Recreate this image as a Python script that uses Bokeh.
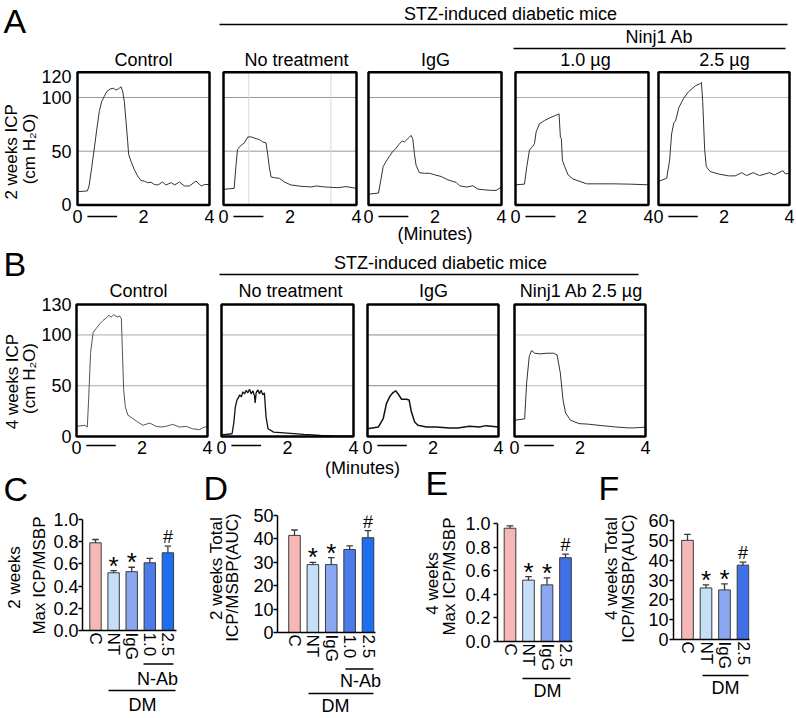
import math
from bokeh.plotting import figure
from bokeh.layouts import column, row
from bokeh.models import Range1d, LinearAxis, FixedTicker, NumeralTickFormatter
from bokeh.core.properties import value
from bokeh.embed import file_html
from bokeh.resources import INLINE

FONT = "Liberation Sans"
MID = 0.355   # distance from baseline to the middle of capitals, in em

# ---------------- data ----------------
minute_ticks = [0, 2, 4]
stim_period = [0.3, 1.2]
icp_grid = [50, 100]
a_nt_vgrid = [0.76, 3.23]

a_titles = ["Control", "No treatment", "IgG", "1.0 µg", "2.5 µg"]
a_yticks = [0, 50, 100, 120]
a_ctrl_t = [0.00, 0.30, 0.35, 0.43, 0.51, 0.59, 0.66, 0.73, 0.81, 0.89, 0.99, 1.09, 1.16, 1.24, 1.32, 1.37, 1.42, 1.47, 1.52, 1.55,
            1.62, 1.72, 1.82, 1.92, 2.03, 2.13, 2.23, 2.33, 2.43, 2.58, 2.68, 2.84, 2.94, 3.09, 3.24, 3.39, 3.59, 3.75, 3.85, 4.00]
a_ctrl_v = [12.3, 13.0, 17.6, 34.6, 53.0, 71.6, 87.0, 96.0, 101.0, 105.6, 108.0, 108.6, 107.0, 108.0, 110.0, 105.6, 96.0, 77.8, 59.0, 47.0,
            40.7, 33.0, 27.0, 22.8, 22.0, 20.7, 21.0, 19.0, 18.5, 21.3, 18.5, 20.7, 18.5, 21.3, 17.6, 17.6, 22.2, 17.6, 19.0, 19.0]
a_nt_t = [0.00, 0.32, 0.37, 0.42, 0.53, 0.63, 0.73, 0.83, 0.98, 1.08, 1.18, 1.28, 1.33, 1.38, 1.43, 1.53, 1.68, 1.83, 2.03, 2.33,
          2.64, 2.79, 3.04, 3.44, 3.69, 4.00]
a_nt_v = [14.5, 15.4, 34.6, 51.5, 55.6, 57.7, 63.3, 63.3, 61.7, 60.8, 58.6, 57.7, 47.0, 34.6, 26.0, 25.3, 24.7, 21.3, 18.5, 17.3,
          16.7, 17.6, 16.7, 16.0, 17.0, 15.4]
a_igg_t = [0.00, 0.30, 0.37, 0.44, 0.52, 0.62, 0.72, 0.82, 0.92, 1.01, 1.08, 1.15, 1.23, 1.28, 1.33, 1.38, 1.43, 1.53, 1.69, 1.84,
           1.99, 2.19, 2.39, 2.54, 2.64, 2.74, 2.94, 3.14, 3.29, 3.49, 3.69, 3.84, 4.00]
a_igg_v = [10.0, 11.0, 23.0, 35.6, 40.0, 44.8, 49.4, 52.5, 56.4, 59.5, 58.6, 60.7, 63.0, 64.7, 61.7, 47.9, 37.0, 30.0, 29.4, 29.4,
           28.0, 26.4, 23.3, 21.8, 20.9, 17.8, 16.6, 17.8, 14.7, 14.0, 13.5, 13.5, 16.6]
a_ab10_t = [0.00, 0.27, 0.34, 0.42, 0.52, 0.57, 0.62, 0.72, 0.87, 1.03, 1.18, 1.31, 1.35, 1.38, 1.41, 1.48, 1.58, 1.73, 1.94, 2.14,
            2.44, 2.95, 3.45, 4.00]
a_ab10_v = [18.7, 19.3, 35.6, 51.0, 54.6, 57.0, 67.8, 75.5, 78.5, 81.0, 83.0, 84.7, 63.2, 61.7, 41.7, 35.6, 28.0, 24.0, 21.8, 19.6,
            19.6, 19.6, 19.3, 18.7]
a_ab25_t = [0.00, 0.25, 0.34, 0.40, 0.47, 0.52, 0.62, 0.77, 0.92, 1.13, 1.28, 1.31, 1.35, 1.41, 1.46, 1.58, 1.83, 2.14, 2.34, 2.54,
            2.69, 2.89, 3.09, 3.39, 3.54, 3.80, 3.87, 4.00]
a_ab25_v = [21.8, 24.8, 41.7, 66.0, 76.7, 78.0, 90.5, 99.4, 105.5, 111.0, 113.0, 114.0, 96.3, 51.0, 35.6, 31.0, 28.8, 27.0, 27.0, 30.0,
            27.3, 30.0, 27.3, 30.0, 27.9, 31.9, 28.8, 29.4]

b_titles = ["Control", "No treatment", "IgG", "Ninj1 Ab 2.5 µg"]
b_yticks = [0, 50, 100, 130]
b_ctrl_t = [0.00, 0.25, 0.33, 0.37, 0.43, 0.51, 0.61, 0.71, 0.81, 0.91, 0.98, 1.06, 1.14, 1.24, 1.32, 1.37, 1.40, 1.44, 1.49, 1.57,
            1.72, 1.87, 2.03, 2.23, 2.43, 2.58, 2.73, 2.94, 3.14, 3.34, 3.54, 3.75, 3.90, 4.00]
b_ctrl_v = [10.0, 11.0, 9.3, 36.0, 82.7, 102.7, 106.7, 111.0, 114.3, 116.7, 119.3, 117.7, 120.0, 117.7, 118.7, 116.0, 86.0, 46.0, 29.3, 21.0,
            17.7, 14.3, 11.0, 13.3, 10.0, 9.3, 10.0, 12.0, 9.3, 10.0, 7.7, 6.7, 9.3, 9.3]
b_nt_t = [0.00, 0.32, 0.37, 0.42, 0.47, 0.52, 0.55, 0.60, 0.65, 0.70, 0.75, 0.80, 0.85, 0.90, 0.95, 1.00, 1.02, 1.05, 1.10, 1.15,
          1.20, 1.25, 1.30, 1.35, 1.41, 1.58, 1.99, 2.49, 3.00, 3.50, 4.00]
b_nt_v = [1.7, 2.7, 12.7, 29.3, 36.0, 38.7, 41.0, 39.0, 44.0, 42.0, 45.5, 43.0, 46.5, 42.0, 45.0, 40.0, 33.0, 43.0, 46.0, 42.0,
          45.5, 41.0, 43.0, 19.3, 7.7, 4.3, 3.3, 2.0, 1.0, 0.3, 0.3]
b_igg_t = [0.00, 0.33, 0.48, 0.58, 0.68, 0.78, 0.86, 0.94, 1.04, 1.19, 1.27, 1.34, 1.44, 1.54, 1.80, 2.10, 2.51, 2.76, 3.11, 3.42,
           3.62, 4.00]
b_igg_v = [7.7, 9.3, 17.7, 32.7, 39.3, 43.3, 45.0, 41.7, 36.7, 36.7, 36.0, 24.3, 14.3, 11.0, 9.3, 9.3, 8.3, 8.3, 10.0, 9.3,
           10.7, 9.3]
b_ab25_t = [0.00, 0.31, 0.37, 0.45, 0.52, 0.62, 0.78, 0.99, 1.19, 1.30, 1.40, 1.48, 1.56, 1.71, 1.97, 2.27, 2.64, 3.05, 3.46, 3.66,
            4.00]
b_ab25_v = [16.0, 17.3, 52.6, 78.8, 84.6, 82.0, 81.4, 82.0, 82.0, 80.4, 62.4, 36.3, 23.2, 16.0, 12.7, 12.1, 10.8, 9.5, 8.5, 8.5,
            9.2]

cats_2w = ["C", "NT", "IgG", "1.0", "2.5"]
cats_4w = ["C", "NT", "IgG", "2.5"]
c_max_2w = [0.79, 0.52, 0.53, 0.61, 0.70]
c_err_2w = [0.03, 0.02, 0.04, 0.04, 0.06]
d_auc_2w = [41.5, 29.0, 29.0, 35.5, 40.5]
d_err_2w = [2.3, 1.0, 3.0, 1.5, 3.0]
e_max_4w = [0.96, 0.52, 0.48, 0.71]
e_err_4w = [0.02, 0.03, 0.06, 0.03]
f_auc_4w = [50.0, 26.0, 25.0, 37.5]
f_err_4w = [3.0, 1.5, 3.0, 1.5]
sig_2w = ["", "*", "*", "", "#"]
sig_4w = ["", "*", "*", "#"]
colors_2w = ["#f6b8b7", "#c5dff8", "#8ba7f1", "#4b7ce9", "#1d6ff1"]
colors_4w = ["#f6b8b7", "#c5dff8", "#8ba7f1", "#3f70e8"]


# ---------------- helpers ----------------
def style_axis(ax, size="18px"):
    ax.major_label_text_font = FONT
    ax.major_label_text_font_size = size
    ax.major_label_text_color = "black"
    ax.axis_label_text_font = FONT
    ax.axis_label_text_font_size = "18px"
    ax.axis_label_text_font_style = "normal"
    ax.axis_label_text_color = "black"
    ax.minor_tick_line_color = None
    ax.minor_tick_in = 0
    ax.minor_tick_out = 0
    return ax


def base_fig(w, h, xr, yr, bl, br, bt, bb):
    p = figure(width=w, height=h, x_range=xr, y_range=yr, x_axis_location=None, y_axis_location=None,
               toolbar_location=None, output_backend="svg", title_location=None,
               min_border_left=bl, min_border_right=br, min_border_top=bt, min_border_bottom=bb)
    p.grid.visible = False
    p.outline_line_color = None
    p.background_fill_color = "white"
    p.border_fill_color = "white"
    return p


def canvas(x0, x1, y0, y1):
    return base_fig(x1 - x0, y1 - y0, Range1d(x0, x1), Range1d(y1, y0), 0, 0, 0, 0)


def put_text(p, items, size=18):
    # items: (text, x, baseline_y, align)
    for (txt, x, y, align) in items:
        p.text(x=[x], y=[y - MID * size], text=[txt], text_align=align, text_baseline="middle",
               text_font=value(FONT), text_font_size=value("%dpx" % size), text_color="black")


def put_lines(p, segs, width=1.5):
    for (x0, x1, y) in segs:
        p.segment(x0=[x0], y0=[y], x1=[x1], y1=[y], line_color="black", line_width=width)


def add_vlabels(p, items, size=17):
    # items: (text, baseline_x, center_y), text reads bottom-to-top
    for (txt, bx, cy) in items:
        p.text(x=[bx - MID * size], y=[cy], text=[txt], angle=math.pi / 2, text_align="center",
               text_baseline="middle", text_font=value(FONT), text_font_size=value("%dpx" % size),
               text_color="black")
    return p


def trace_fig(fx0, fx1, fy0, fy1, box_l, box_r, box_t, box_0, ytop, frame_b, stim_px, t, v, title,
              line_color="#333333", line_width=1.0, grid_color="#999999", x_standoff=-9,
              yaxis=None, xlabel=None, xlabel_standoff=-2, vlines=()):
    pad = 2
    t_end = minute_ticks[-1]
    ppm = (box_r - box_l) / float(t_end)
    ppu = (box_0 - box_t) / float(ytop)
    fl, fr = box_l - pad, box_r + pad
    p = base_fig(fx1 - fx0, fy1 - fy0,
                 Range1d(-pad / ppm, t_end + pad / ppm),
                 Range1d(-(frame_b - box_0) / ppu, ytop + (box_t - fy0) / ppu),
                 fl - fx0, fx1 - fr, 0, fy1 - frame_b)
    for g in icp_grid:
        p.segment(x0=[0], y0=[g], x1=[t_end], y1=[g], line_color=grid_color, line_width=1)
    for xv in vlines:
        p.segment(x0=[xv], y0=[0], x1=[xv], y1=[ytop], line_color="#d8d8d8", line_width=1)
    p.line(t, v, line_color=line_color, line_width=line_width)
    p.quad(left=[0], right=[t_end], bottom=[0], top=[ytop], fill_color=None,
           line_color="black", line_width=2.5)
    sy = -stim_px / ppu
    p.segment(x0=[stim_period[0]], y0=[sy], x1=[stim_period[1]], y1=[sy], line_color="black", line_width=1.5)
    txt, cx, base = title
    p.text(x=[(cx - box_l) / ppm], y=[ytop + (box_t - (base - MID * 18)) / ppu], text=[txt],
           text_align="center", text_baseline="middle", text_font=value(FONT),
           text_font_size=value("18px"), text_color="black")

    xa = LinearAxis(ticker=FixedTicker(ticks=minute_ticks), axis_line_color=None, major_tick_line_color=None,
                    major_tick_in=0, major_tick_out=0, major_label_standoff=x_standoff)
    style_axis(xa)
    if xlabel:
        xa.axis_label = xlabel
        xa.axis_label_standoff = xlabel_standoff
    p.add_layout(xa, "below")
    if yaxis is not None:
        ticks, ystand = yaxis
        ya = LinearAxis(ticker=FixedTicker(ticks=ticks), axis_line_color=None, major_tick_line_color=None,
                        major_tick_in=0, major_tick_out=0, major_label_standoff=ystand)
        style_axis(ya)
        p.add_layout(ya, "left")
    return p


def bar_fig(fx0, fx1, fy0, fy1, fl, fr, ft, fb, c0, pitch, cats, vals, errs, sig, colors,
            ymax, yticks, yfmt, ystand, axis_r=None):
    idx = list(range(len(cats)))
    x0, x1 = (fl - c0) / pitch, (fr - c0) / pitch
    p = base_fig(fx1 - fx0, fy1 - fy0, Range1d(x0, x1), Range1d(0, ymax),
                 fl - fx0, fx1 - fr, ft - fy0, fy1 - fb)
    p.vbar(x=idx, top=vals, bottom=0, width=0.63, fill_color=colors, line_color="#3a3a3a", line_width=1)
    tops = [a + b for a, b in zip(vals, errs)]
    p.segment(x0=idx, y0=vals, x1=idx, y1=tops, line_color="#3a3a3a", line_width=1.3)
    p.segment(x0=[i - 0.18 for i in idx], y0=tops, x1=[i + 0.18 for i in idx], y1=tops,
              line_color="#3a3a3a", line_width=1.3)
    si = [i for i in idx if sig[i] == "*"]
    p.text(x=si, y=[tops[i] for i in si], text=["*"] * len(si), text_align="center", text_baseline="middle",
           y_offset=-5, text_font=value(FONT), text_font_size=value("26px"), text_color="black")
    hi = [i for i in idx if sig[i] == "#"]
    p.text(x=hi, y=[tops[i] for i in hi], text=["#"] * len(hi), text_align="center", text_baseline="middle",
           y_offset=-9, text_font=value(FONT), text_font_size=value("18px"), text_color="black")

    ya = LinearAxis(ticker=FixedTicker(ticks=yticks), axis_line_color="black", axis_line_width=1.5,
                    major_tick_line_color="black", major_tick_line_width=1.5, major_tick_in=0, major_tick_out=4,
                    major_label_standoff=ystand)
    if yfmt:
        ya.formatter = NumeralTickFormatter(format=yfmt)
    style_axis(ya)
    p.add_layout(ya, "left")
    xa = LinearAxis(ticker=FixedTicker(ticks=idx), major_label_overrides={i: c for i, c in enumerate(cats)},
                    major_label_orientation=-math.pi / 2, axis_line_color="black", axis_line_width=1.5,
                    major_tick_line_color=None, major_tick_in=0, major_tick_out=0, major_label_standoff=2)
    if axis_r is not None:
        xa.bounds = (x0, (axis_r - c0) / pitch)
    style_axis(xa, "17px")
    p.add_layout(xa, "below")
    return p


W = 794

# ---------------- row A ----------------
A_HDR = 50
hA = canvas(0, W, 0, A_HDR)
put_text(hA, [("A", 3, 33, "left")], 34)
put_text(hA, [("STZ-induced diabetic mice", 510, 20, "center"), ("Ninj1 Ab", 659, 43, "center")])
put_lines(hA, [(219, 787, 24), (513, 785, 48)])

A_Y1, A_BT, A_B0, A_TOP, A_FB = 246, 72, 205.3, 123.4, 219
# label strip shares the panel frame (top A_HDR .. bottom A_FB)
labA = base_fig(38, A_Y1 - A_HDR, Range1d(0, 38), Range1d(A_FB, A_HDR), 0, 0, 0, A_Y1 - A_FB)
add_vlabels(labA, [("2 weeks ICP", 17, 152), ("(cm H\u2082O)", 35, 149)])
a_series = [(a_ctrl_t, a_ctrl_v), (a_nt_t, a_nt_v), (a_igg_t, a_igg_v), (a_ab10_t, a_ab10_v), (a_ab25_t, a_ab25_v)]
a_title_x = [143, 296, 435, 585, 724]
a_figx = [(38, 216), (216, 362), (362, 508), (508, 653), (653, W)]
a_box = [(77, 209), (223, 356), (368, 501), (515, 648), (658, 789)]
a_gridc = ["#999999", "#999999", "#999999", "#aaaaaa", "#bbbbbb"]
rowA = [labA]
for k in range(5):
    rowA.append(trace_fig(a_figx[k][0], a_figx[k][1], A_HDR, A_Y1, a_box[k][0], a_box[k][1], A_BT, A_B0, A_TOP, A_FB,
                          11.7, a_series[k][0], a_series[k][1], (a_titles[k], a_title_x[k], 66),
                          grid_color=a_gridc[k], x_standoff=-9,
                          yaxis=(a_yticks, 4) if k == 0 else None,
                          xlabel="(Minutes)" if k == 2 else None, xlabel_standoff=-2,
                          vlines=a_nt_vgrid if k == 1 else ()))

# ---------------- row B ----------------
B_HDR = 283
hB = canvas(0, W, A_Y1, B_HDR)
put_text(hB, [("B", 3, 276, "left")], 34)
put_text(hB, [("STZ-induced diabetic mice", 440, 269, "center")])
put_lines(hB, [(219, 638, 274)])

B_Y1, B_BT, B_B0, B_TOP, B_FB = 461, 304, 436, 130, 447
labB = base_fig(38, B_Y1 - B_HDR, Range1d(0, 38), Range1d(B_FB, B_HDR), 0, 0, 0, B_Y1 - B_FB)
add_vlabels(labB, [("4 weeks ICP", 18, 381), ("(cm H\u2082O)", 35, 378)])
b_series = [(b_ctrl_t, b_ctrl_v), (b_nt_t, b_nt_v), (b_igg_t, b_igg_v), (b_ab25_t, b_ab25_v)]
b_title_x = [138, 290, 433, 581]
b_figx = [(38, 214), (214, 360), (360, 507), (507, W)]
b_box = [(76, 207), (221, 353), (367, 498), (514, 645)]
b_lc = [("#555555", 1.0), ("#111111", 1.3), ("#111111", 1.5), ("#333333", 1.0)]
b_gridc = ["#aaaaaa", "#aaaaaa", "#888888", "#bbbbbb"]
rowB = [labB]
for k in range(4):
    rowB.append(trace_fig(b_figx[k][0], b_figx[k][1], B_HDR, B_Y1, b_box[k][0], b_box[k][1], B_BT, B_B0, B_TOP, B_FB,
                          9, b_series[k][0], b_series[k][1], (b_titles[k], b_title_x[k], 297),
                          line_color=b_lc[k][0], line_width=b_lc[k][1],
                          grid_color=b_gridc[k], x_standoff=-7,
                          yaxis=(b_yticks, 3) if k == 0 else None))

# ---------------- row C-F ----------------
Y_TOP, Y_FIG, Y_END = B_Y1, 504, 716

# C
labC = canvas(0, 50, Y_TOP, 662)
put_text(labC, [("C", 3, 501, "left")], 34)
add_vlabels(labC, [("2 weeks", 20, 577), ("Max ICP/MSBP", 45, 575)])
hdrC = base_fig(140, Y_FIG - Y_TOP, Range1d(82, 176), Range1d(Y_FIG, Y_TOP), 32, 14, 0, 0)
figC = bar_fig(50, 190, Y_FIG, 662, 82, 176, 519, 631, 95, 18.1, cats_2w, c_max_2w, c_err_2w, sig_2w, colors_2w,
               1.0, [0, 0.2, 0.4, 0.6, 0.8, 1.0], "0.0", 0)
footC = canvas(0, 190, 662, Y_END)
put_lines(footC, [(143, 173, 663.5), (108, 175, 690)])
put_text(footC, [("N-Ab", 157, 685, "center"), ("DM", 142, 711, "center")])

# D  (frame reaches x=400 so that the "(Minutes)" label above it has room; axis line stops at 375)
labD = canvas(190, 248, Y_TOP, 667)
put_text(labD, [("D", 203, 500, "left")], 34)
add_vlabels(labD, [("2 weeks Total", 222, 568), ("ICP/MSBP(AUC)", 238, 577)])
hdrD = base_fig(152, Y_FIG - Y_TOP, Range1d(277, 400), Range1d(Y_FIG, Y_TOP), 29, 0, 0, 0)
put_text(hdrD, [("(Minutes)", 362, 474, "center")])
figD = bar_fig(248, 400, Y_FIG, 667, 277, 400, 515, 632, 294, 18.375, cats_2w, d_auc_2w, d_err_2w, sig_2w, colors_2w,
               50, [0, 10, 20, 30, 40, 50], None, 0, axis_r=375)
footD = canvas(190, 400, 667, Y_END)
put_lines(footD, [(345, 373, 668.5), (308, 373, 693)])
put_text(footD, [("N-Ab", 360, 687, "center"), ("DM", 335, 712, "center")])

# E
labE = canvas(400, 460, Y_TOP, 673)
put_text(labE, [("E", 425, 495, "left")], 34)
add_vlabels(labE, [("4 weeks", 438, 583), ("Max ICP/MSBP", 455, 576)])
hdrE = base_fig(130, Y_FIG - Y_TOP, Range1d(497, 572), Range1d(Y_FIG, Y_TOP), 37, 18, 0, 0)
figE = bar_fig(460, 590, Y_FIG, 673, 497, 572, 523, 642, 509.5, 18.5, cats_4w, e_max_4w, e_err_4w, sig_4w, colors_4w,
               1.0, [0, 0.2, 0.4, 0.6, 0.8, 1.0], "0.0", 3)
footE = canvas(400, 590, 673, Y_END)
put_lines(footE, [(522, 570, 678)])
put_text(footE, [("DM", 547, 697, "center")])

# F
labF = canvas(590, 642, Y_TOP, 671)
put_text(labF, [("F", 598, 500, "left")], 34)
add_vlabels(labF, [("4 weeks Total", 617, 568), ("ICP/MSBP(AUC)", 634, 578)])
hdrF = base_fig(W - 642, Y_FIG - Y_TOP, Range1d(673, 749), Range1d(Y_FIG, Y_TOP), 31, W - 749, 0, 0)
figF = bar_fig(642, W, Y_FIG, 671, 673, 749, 520, 640, 687, 18.5, cats_4w, f_auc_4w, f_err_4w, sig_4w, colors_4w,
               60, [0, 10, 20, 30, 40, 50, 60], None, 1)
footF = canvas(590, W, 671, Y_END)
put_lines(footF, [(702, 748, 675)])
put_text(footF, [("DM", 725, 694, "center")])

layout = column(
    hA,
    row(*rowA),
    hB,
    row(*rowB),
    row(column(row(labC, column(hdrC, figC)), footC),
        column(row(labD, column(hdrD, figD)), footD),
        column(row(labE, column(hdrE, figE)), footE),
        column(row(labF, column(hdrF, figF)), footF)),
)

open("out.html", "w").write(file_html(layout, INLINE, "ICP figure"))
